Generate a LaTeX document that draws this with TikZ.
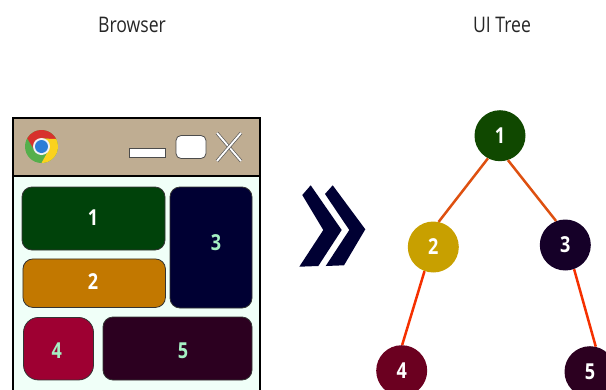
\documentclass[tikz,border=0pt]{standalone}
\usepackage{fontspec}
\setmainfont[FakeStretch=0.82]{Open Sans}
\usetikzlibrary{positioning}
\definecolor{titletan}{RGB}{191,173,146}
\definecolor{pagemint}{RGB}{240,255,248}
\definecolor{numgreen}{RGB}{165,240,195}
\definecolor{navyblue}{RGB}{0,0,51}
\definecolor{boxgreen}{RGB}{0,66,10}
\definecolor{boxamber}{RGB}{194,120,0}
\definecolor{boxcrimson}{RGB}{158,0,50}
\definecolor{boxplum}{RGB}{44,0,32}
\definecolor{treegreen}{RGB}{16,72,0}
\definecolor{treegold}{RGB}{200,160,0}
\definecolor{treeink}{RGB}{21,0,40}
\definecolor{treewine}{RGB}{107,0,32}
\definecolor{edgeorange}{RGB}{222,80,16}
\definecolor{edgered}{RGB}{245,48,0}
\definecolor{chromegreen}{RGB}{85,175,75}
\definecolor{chromered}{RGB}{215,50,45}
\definecolor{chromeyellow}{RGB}{250,210,30}
\definecolor{chromeblue}{RGB}{45,125,215}
\begin{document}
\begin{tikzpicture}[
    x=1pt, y=-1pt,
    title_text/.style={font=\fontsize{21.5}{26}\selectfont, text=black!85},
    ui_box/.style={draw=black!80, line width=0.8pt, rounded corners=10pt, inner sep=0pt},
    box_num/.style={font=\fontsize{22}{26}\selectfont\bfseries, inner sep=0pt},
    tree_node/.style={circle, minimum size=51pt, inner sep=0pt, text=white, font=\fontsize{22}{26}\selectfont\bfseries},
    tree_edge/.style={line width=2.5pt},
    win_button/.style={draw=black!70, fill=white, line width=0.8pt, inner sep=0pt},
    win_cross/.style={draw=black!65, double=white, double distance=1.8pt, line width=0.7pt}
]
    \clip (0,0) rectangle (606,389);

    % Titles
    \node[title_text] (browser_title) at (132,25) {Browser};
    \node[title_text] (tree_title) at (502,25) {UI Tree};

    % Browser window
    \draw[line width=2pt, fill=pagemint] (13,118) rectangle (260,400);
    \draw[line width=2pt, fill=titletan] (13,118) rectangle (260,176);

    % Chrome icon
    \begin{scope}[shift={(41.5,146.5)}, y=1pt]
        \fill[chromegreen] (0,0) circle[radius=16.5];
        \fill[chromered] (90:8) -- (27:16.5) arc[start angle=27, end angle=150, radius=16.5] -- (210:8) -- (0,0) -- cycle;
        \fill[chromeyellow] (330:8) -- (270:16.5) arc[start angle=270, end angle=387, radius=16.5] -- (90:8) -- (0,0) -- cycle;
        \fill[white!90!gray] (0,0) circle[radius=8.5];
        \fill[chromeblue] (0,0) circle[radius=6.5];
    \end{scope}

    % Window buttons
    \node[win_button, minimum width=36pt, minimum height=9pt] (min_button) at (147,152.5) {};
    \node[win_button, minimum width=30pt, minimum height=23pt, rounded corners=5pt] (max_button) at (191,147) {};
    \draw[win_cross] (217,133) -- (241,161);
    \draw[win_cross] (241,133) -- (217,161);

    % Page boxes
    \node[ui_box, fill=boxgreen, minimum width=143pt, minimum height=63pt] (box_1) at (93.5,218.5) {};
    \node[ui_box, fill=boxamber, minimum width=142.5pt, minimum height=48.5pt] (box_2) at (94.2,283.2) {};
    \node[ui_box, fill=navyblue, minimum width=82pt, minimum height=121pt] (box_3) at (211,247.5) {};
    \node[ui_box, fill=boxcrimson, minimum width=70pt, minimum height=62.5pt, rounded corners=15pt] (box_4) at (58.5,348.7) {};
    \node[ui_box, fill=boxplum, minimum width=149pt, minimum height=63pt] (box_5) at (177.5,348.5) {};

    % Box numbers
    \node[box_num, text=white] (num_1) at (93,218) {1};
    \node[box_num, text=white] (num_2) at (93,282) {2};
    \node[box_num, text=numgreen] (num_3) at (216,243) {3};
    \node[box_num, text=numgreen] (num_4) at (56.7,350.7) {4};
    \node[box_num, text=numgreen] (num_5) at (183,351) {5};

    % Double chevron
    \fill[navyblue] (310.7,185.3) -- (341.7,230) -- (318.3,266) -- (299.3,266.7) -- (323.3,230) -- (302.3,195) -- cycle;
    \fill[navyblue] (332.7,185.3) -- (365.3,229.3) -- (344,265.3) -- (325.7,266) -- (349.3,230) -- (325,194) -- cycle;

    % UI tree
    \node[tree_node, fill=treegreen] (tree_1) at (500,135.7) {1};
    \node[tree_node, fill=treegold] (tree_2) at (433.3,247) {2};
    \node[tree_node, fill=treeink] (tree_3) at (565.3,245) {3};
    \node[tree_node, fill=treewine] (tree_4) at (401.7,370.7) {4};
    \node[tree_node, fill=boxplum] (tree_5) at (590,371.7) {5};

    \draw[tree_edge, draw=edgeorange] (tree_1.242) -- (tree_2.78);
    \draw[tree_edge, draw=edgeorange] (tree_1.288) -- (tree_3.111);
    \draw[tree_edge, draw=edgered] (tree_2.250) -- (tree_4.89);
    \draw[tree_edge, draw=edgered] (tree_3.290) -- (tree_5.77);
\end{tikzpicture}
\end{document}
